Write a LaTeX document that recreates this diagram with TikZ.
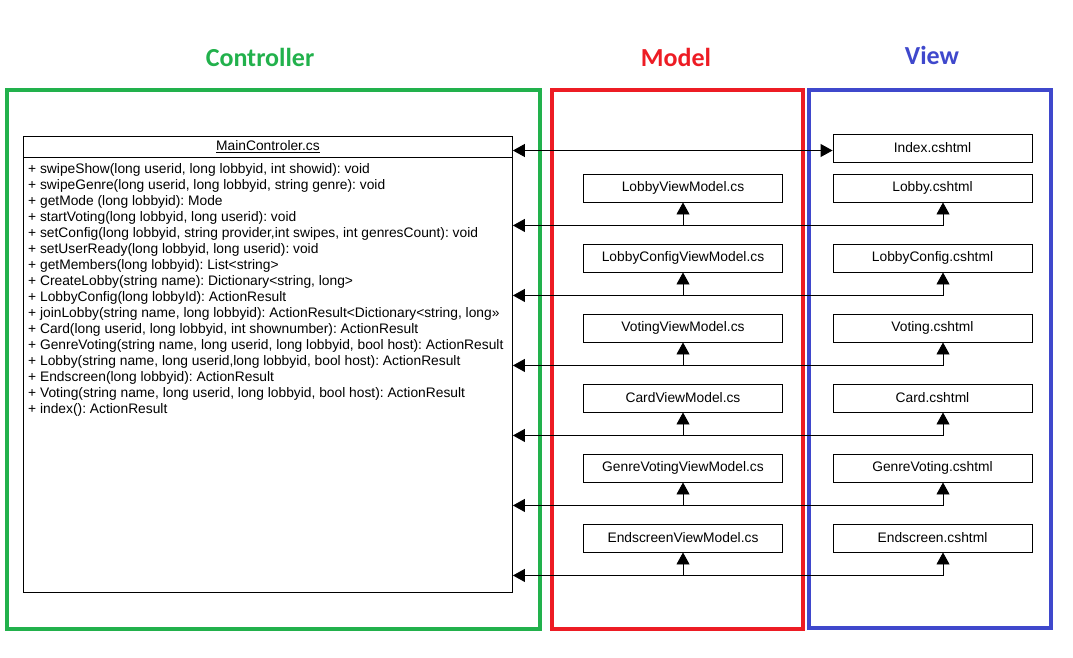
\documentclass[tikz,border=0pt]{standalone}
\usepackage{fontspec}
\setmainfont{Liberation Sans}
\newfontfamily\titlefont{Carlito}
\usetikzlibrary{arrows.meta,calc}
\definecolor{ctrlgreen}{RGB}{34,177,76}
\definecolor{modelred}{RGB}{237,28,36}
\definecolor{viewblue}{RGB}{63,72,204}
\frenchspacing
\tikzset{
  frame/.style={line width=4pt},
  title/.style={font=\titlefont\fontsize{26}{30}\selectfont\bfseries},
  filebox/.style={draw, line width=0.9pt, minimum width=199pt, minimum height=28pt, inner sep=0pt, font=\fontsize{13.8}{16}\selectfont},
  methodtext/.style={anchor=base west, inner sep=0pt, font=\fontsize{13.8}{16}\selectfont},
  tri/.style={-{Triangle[length=12pt,width=13pt]}, line width=0.9pt},
  tritwo/.style={{Triangle[length=12pt,width=13pt]}-{Triangle[length=12pt,width=13pt]}, line width=0.9pt},
}
\begin{document}
\begin{tikzpicture}[x=1pt,y=-1pt]
\useasboundingbox (0,0) rectangle (1073,658);
% titles
\node[title, text=ctrlgreen] (tctrl) at (260,57) {Controller};
\node[title, text=modelred] (tmodel) at (676,57) {Model};
\node[title, text=viewblue] (tview) at (932,55) {View};
% frames
\draw[frame, ctrlgreen] (7,90) rectangle (540,629);
\draw[frame, modelred] (552,90) rectangle (803,629);
\draw[frame, viewblue] (809,90) rectangle (1051,628);
% class box
\node[draw, line width=0.9pt, minimum width=489pt, minimum height=456pt, anchor=north west, inner sep=0pt] (main) at (23,136) {};
\node[draw, line width=0.9pt, minimum width=489pt, minimum height=21pt, anchor=north west, inner sep=0pt, font=\fontsize{13.8}{16}\selectfont] (mainhead) at (23,136) {\underline{MainControler.cs}};
\foreach \t [count=\i] in {
  {+ swipeShow(long userid, long lobbyid, int showid): void},
  {+ swipeGenre(long userid, long lobbyid, string genre): void},
  {+ getMode (long lobbyid): Mode},
  {+ startVoting(long lobbyid, long userid): void},
  {+ setConfig(long lobbyid, string provider,int swipes, int genresCount): void},
  {+ setUserReady(long lobbyid, long userid): void},
  {+ getMembers(long lobbyid): List<string>},
  {+ CreateLobby(string name): Dictionary<string, long>},
  {+ LobbyConfig(long lobbyId): ActionResult},
  {+ joinLobby(string name, long lobbyid): ActionResult<Dictionary<string, long»},
  {+ Card(long userid, long lobbyid, int shownumber): ActionResult},
  {+ GenreVoting(string name, long userid, long lobbyid, bool host): ActionResult},
  {+ Lobby(string name, long userid,long lobbyid, bool host): ActionResult},
  {+ Endscreen(long lobbyid): ActionResult},
  {+ Voting(string name, long userid, long lobbyid, bool host): ActionResult},
  {+ index(): ActionResult}}
  \node[methodtext] (meth\i) at (28,{157+16*\i}) {\t};
% view boxes
\node[filebox] (vindex) at (932.5,148) {Index.cshtml};
\node[filebox] (v1) at (932.5,188) {Lobby.cshtml};
\node[filebox] (v2) at (932.5,258) {LobbyConfig.cshtml};
\node[filebox] (v3) at (932.5,328) {Voting.cshtml};
\node[filebox] (v4) at (932.5,398) {Card.cshtml};
\node[filebox] (v5) at (932.5,468) {GenreVoting.cshtml};
\node[filebox] (v6) at (932.5,538) {Endscreen.cshtml};
% model boxes
\node[filebox] (m1) at (683,188) {LobbyViewModel.cs};
\node[filebox] (m2) at (683,258) {LobbyConfigViewModel.cs};
\node[filebox] (m3) at (683,328) {VotingViewModel.cs};
\node[filebox] (m4) at (683,398) {CardViewModel.cs};
\node[filebox] (m5) at (683,468) {GenreVotingViewModel.cs};
\node[filebox] (m6) at (683,538) {EndscreenViewModel.cs};
% index connector
\coordinate (ia) at ([yshift=-2.5pt]vindex.west);
\draw[tritwo] (main.east |- ia) -- (ia);
% row connectors
\foreach \k in {1,...,6} {
  \coordinate (r\k) at ($(m\k.south)+(0,23)$);
  \coordinate (va\k) at ([xshift=10.5pt]v\k.south);
  \draw[tri] (r\k) -- (r\k -| main.east);
  \draw[tri] (r\k) -- (m\k.south);
  \draw[tri] (r\k) -| (va\k);
}
\end{tikzpicture}
\end{document}
